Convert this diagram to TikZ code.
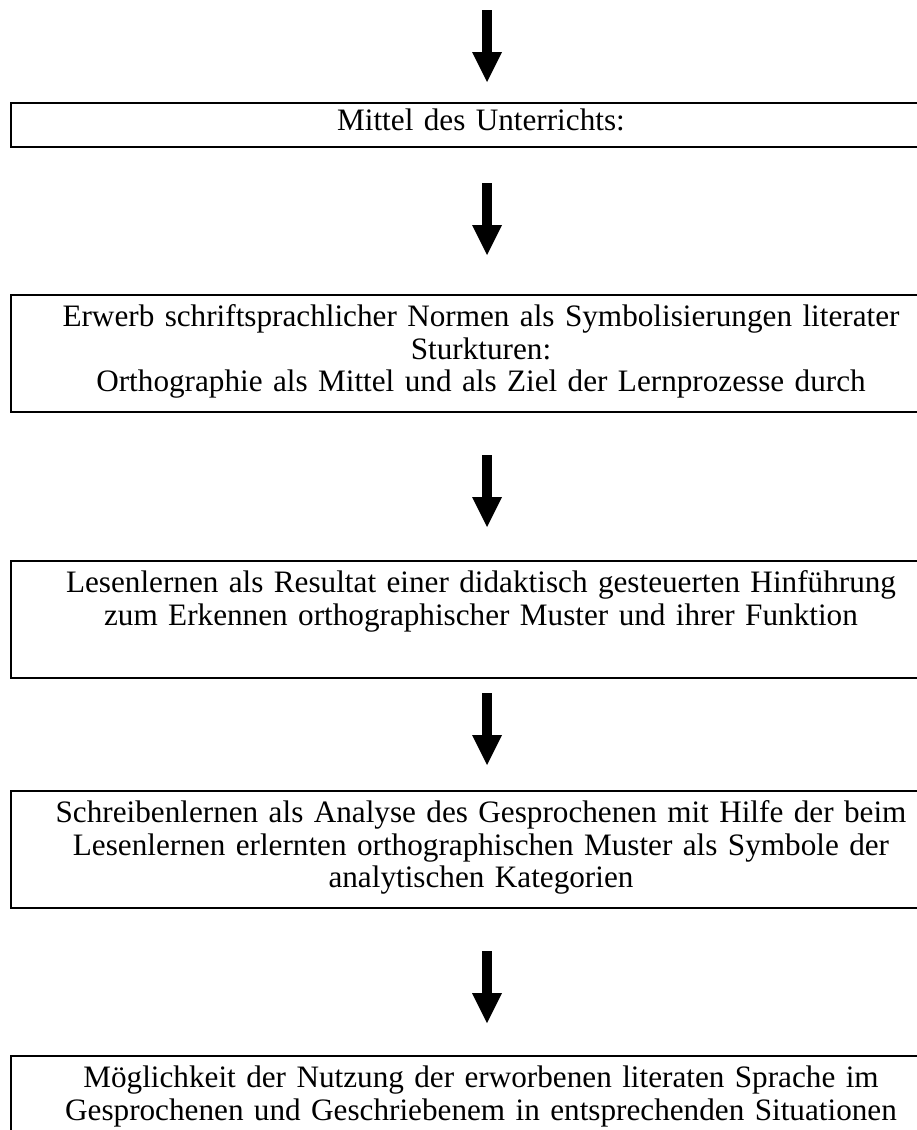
\documentclass[tikz,border=0pt]{standalone}
\usepackage{fontspec}
\setmainfont{Liberation Serif}
\usetikzlibrary{positioning,arrows.meta}

\begin{document}
\begin{tikzpicture}[x=1pt,y=-1pt,node distance=148pt,
    box/.style={draw, line width=2pt, outer sep=0pt, text width=920pt, align=center,
        inner xsep=10pt, inner ysep=6.5pt,
        font=\fontsize{31.2}{32.5}\selectfont,
        execute at begin node=\rule{0pt}{25pt},
        execute at end node=\rule[-14pt]{0pt}{0pt}},
    flow/.style={line width=10pt, -{Triangle[width=30pt,length=30pt,line width=0pt]}}]
    \useasboundingbox (0,0) rectangle (917,1130);
    \clip (0,0) rectangle (917,1130);
    \coordinate (top) at (487,10);
    \node[box] (mittel) [anchor=north, inner ysep=2.5pt] at (481,103) {Mittel des Unterrichts:};
    \node[box] (erwerb) [below=of mittel] {Erwerb schriftsprachlicher Normen als Symbolisierungen literater\\
        Sturkturen:\\
        Orthographie als Mittel und als Ziel der Lernprozesse durch};
    \node[box] (lesen) [below=149pt of erwerb] {Lesenlernen als Resultat einer didaktisch gesteuerten Hinführung\\
        zum Erkennen orthographischer Muster und ihrer Funktion\\ };
    \node[box] (schreiben) [below=113pt of lesen] {Schreibenlernen als Analyse des Gesprochenen mit Hilfe der beim\\
        Lesenlernen erlernten orthographischen Muster als Symbole der\\
        analytischen Kategorien};
    \node[box] (nutzung) [below=of schreiben] {Möglichkeit der Nutzung der erworbenen literaten Sprache im\\
        Gesprochenen und Geschriebenem in entsprechenden Situationen};
    \path
    (top) edge[flow, shorten >=21pt] (mittel.north -| top)
    (mittel.south -| top) edge[flow, shorten <=36pt, shorten >=40pt] (erwerb.north -| top)
    (erwerb.south -| top) edge[flow, shorten <=43pt, shorten >=34pt] (lesen.north -| top)
    (lesen.south -| top) edge[flow, shorten <=15pt, shorten >=26pt] (schreiben.north -| top)
    (schreiben.south -| top) edge[flow, shorten <=43pt, shorten >=33pt] (nutzung.north -| top);
\end{tikzpicture}
\end{document}
